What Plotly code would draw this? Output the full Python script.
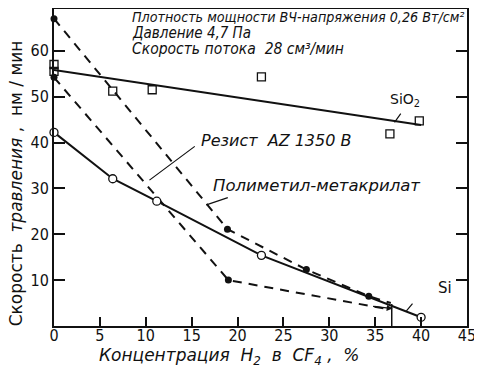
import plotly.graph_objects as go

# --- data ---
sio2_x = [0, 0, 6.4, 10.7, 22.6, 36.6, 39.8]
sio2_y = [57.0, 55.5, 51.2, 51.5, 54.3, 41.9, 44.7]
sio2_fit_x = [0, 40]
sio2_fit_y = [55.8, 43.8]

si_x = [0, 6.4, 11.2, 22.6, 40.0]
si_y = [42.2, 32.1, 27.2, 15.4, 1.9]

pmma_x = [0, 18.9, 27.5, 34.3, 36.7]
pmma_y = [67.0, 21.1, 12.3, 6.5, 5.0]

resist_x = [0, 19.0, 36.3]
resist_y = [54.2, 10.0, 3.7]

drop_x = [36.8, 36.8]
drop_y = [0, 4.8]

x_ticks = [0, 5, 10, 15, 20, 25, 30, 35, 40, 45]
y_ticks = [10, 20, 30, 40, 50, 60]

FONT = "DejaVu Sans Condensed"
LFONT = "DejaVu Sans"
BLACK = "#111111"

fig = go.Figure()

fig.add_trace(go.Scatter(x=sio2_fit_x, y=sio2_fit_y, mode="lines",
                         line=dict(color=BLACK, width=2), showlegend=False))
fig.add_trace(go.Scatter(x=sio2_x, y=sio2_y, mode="markers",
                         marker=dict(symbol="square-open", size=8, color=BLACK,
                                     line=dict(width=1.3)), showlegend=False,
                         cliponaxis=False))
fig.add_trace(go.Scatter(x=pmma_x, y=pmma_y, mode="lines",
                         line=dict(color=BLACK, width=2, dash="9px,7px"),
                         showlegend=False))
fig.add_trace(go.Scatter(x=pmma_x[:4], y=pmma_y[:4], mode="markers",
                         marker=dict(symbol="circle", size=7, color=BLACK),
                         showlegend=False, cliponaxis=False))
fig.add_trace(go.Scatter(x=resist_x, y=resist_y, mode="lines",
                         line=dict(color=BLACK, width=2, dash="9px,7px"),
                         showlegend=False))
fig.add_trace(go.Scatter(x=resist_x[:2], y=resist_y[:2], mode="markers",
                         marker=dict(symbol="circle", size=7, color=BLACK),
                         showlegend=False, cliponaxis=False))
fig.add_trace(go.Scatter(x=si_x, y=si_y, mode="lines",
                         line=dict(color=BLACK, width=2), showlegend=False))
fig.add_trace(go.Scatter(x=si_x, y=si_y, mode="markers",
                         marker=dict(symbol="circle", size=8, color="white",
                                     line=dict(color=BLACK, width=1.3)),
                         showlegend=False, cliponaxis=False))
fig.add_trace(go.Scatter(x=drop_x, y=drop_y, mode="lines",
                         line=dict(color=BLACK, width=1.5), showlegend=False))

anns = []
def txt(x, y, s, size=14, anchor="left", fam=LFONT):
    anns.append(dict(x=x, y=y, xref="x", yref="y", text=s, showarrow=False,
                     xanchor=anchor, yanchor="middle",
                     font=dict(family=fam, size=size, color=BLACK)))

def leader(x0, y0, x1, y1, head=0):
    anns.append(dict(x=x1, y=y1, ax=x0, ay=y0, xref="x", yref="y",
                     axref="x", ayref="y", text="", showarrow=True,
                     arrowhead=head, arrowwidth=1.2, arrowcolor=BLACK,
                     arrowsize=1))

txt(8.3, 67.4, "<i>Плотность мощности ВЧ-напряжения 0,26 Вт/см²</i>", 14.2, fam=FONT)
txt(8.3, 63.9, "<i>Давление 4,7 Па</i>", 15, fam=FONT)
txt(8.3, 60.4, "<i>Скорость потока  28 см³/мин</i>", 15.5, fam=FONT)
txt(15.8, 40.5, "<i>Резист  AZ 1350 B</i>", 16)
txt(17.1, 30.7, "<i>Полиметил-метакрилат</i>", 16.5)
txt(36.4, 49.2, "SiO<sub>2</sub>", 14)
txt(41.6, 8.3, "Si", 15)

leader(15.5, 39.4, 10.4, 31.8)
leader(19.1, 28.1, 16.6, 26.4)
leader(37.9, 46.6, 37.1, 44.4)
leader(39.2, 5.2, 38.4, 3.3)
leader(34.6, 4.3, 36.9, 3.8, head=2)

# axis titles as paper-positioned annotations
anns.append(dict(x=0.424, y=-0.0975, xref="paper", yref="paper",
                 text="<i>Концентрация  H<sub>2</sub>  в  CF<sub>4</sub> ,  %</i>",
                 showarrow=False, xanchor="center", yanchor="middle",
                 font=dict(family=LFONT, size=17, color=BLACK)))
anns.append(dict(x=-0.092, y=0.45, xref="paper", yref="paper",
                 text="Скорость  <i>травления</i> ,  нм / мин", textangle=-90,
                 showarrow=False, xanchor="center", yanchor="middle",
                 font=dict(family=LFONT, size=17, color=BLACK)))

# the page body adds an 8px offset, so the figure is sized to fit the window
fig.update_layout(
    width=474, height=358,
    margin=dict(l=46, r=15, t=1, b=40),
    paper_bgcolor="white", plot_bgcolor="white",
    font=dict(family=FONT, size=16, color=BLACK),
    annotations=anns,
    xaxis=dict(range=[0, 45], tickvals=x_ticks, ticktext=[str(v) for v in x_ticks],
               showgrid=False, zeroline=False, showline=True, linecolor=BLACK,
               linewidth=2, ticks="inside", ticklen=9, tickwidth=1.5,
               tickcolor=BLACK, mirror=True, automargin=False,
               ticklabelstandoff=-6),
    yaxis=dict(range=[0, 69.1], tickvals=y_ticks, ticktext=[str(v) for v in y_ticks],
               showgrid=False, zeroline=False, showline=True, linecolor=BLACK,
               linewidth=2, ticks="inside", ticklen=11, tickwidth=1.5,
               tickcolor=BLACK, mirror="ticks", automargin=False),
)

fig.write_html("out.html")
